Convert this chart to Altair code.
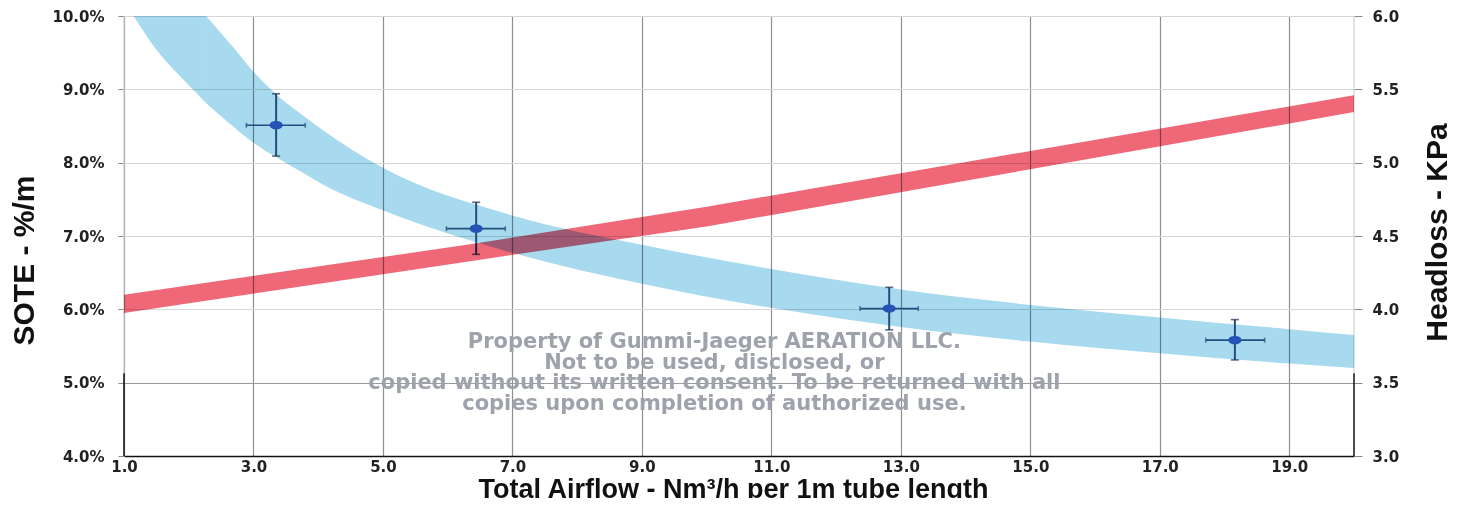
import altair as alt
import pandas as pd

# ---------------- data ----------------
# Blue band: SOTE (%/m) vs total airflow (main part, from where it leaves the top edge)
band_x = [2.27, 2.69, 3.0, 3.42, 3.77, 4.08, 5.0, 7.0, 9.0, 11.0, 13.0, 15.0, 17.0, 19.0, 20.0]
sote_upper = [10.0, 9.57, 9.24, 8.88, 8.64, 8.44, 7.93, 7.28, 6.88, 6.55, 6.27, 6.06, 5.89, 5.73, 5.65]
sote_lower = [8.81, 8.49, 8.27, 8.04, 7.86, 7.70, 7.35, 6.77, 6.35, 6.02, 5.76, 5.56, 5.40, 5.26, 5.20]
# Blue band tip, cut by the top of the plot (upper edge is the 10 % frame)
tip_x = [1.15, 1.5, 1.92, 2.27]
tip_lower = [10.0, 9.54, 9.13, 8.81]

# Red band: Headloss (KPa) vs total airflow
head_x = [1.0, 6.45, 10.0, 20.0]
head_lower = [3.975, 4.335, 4.565, 5.345]
head_upper = [4.10, 4.45, 4.70, 5.46]

# Measured points with error bars (SOTE %/m)
pt_x = [3.35, 6.44, 12.82, 18.16]
pt_y = [8.51, 7.10, 6.01, 5.58]
pt_y_lo = [8.09, 6.75, 5.72, 5.31]
pt_y_hi = [8.94, 7.46, 6.30, 5.86]
pt_x_lo = [2.89, 5.98, 12.37, 17.71]
pt_x_hi = [3.80, 6.89, 13.27, 18.62]

# Axes
x_ticks = [1.0, 3.0, 5.0, 7.0, 9.0, 11.0, 13.0, 15.0, 17.0, 19.0]
sote_ticks = [4.0, 5.0, 6.0, 7.0, 8.0, 9.0, 10.0]
head_ticks = [3.0, 3.5, 4.0, 4.5, 5.0, 5.5, 6.0]
x_range = [1.0, 20.0]
sote_range = [4.0, 10.0]
head_range = [3.0, 6.0]

# Plot frame: lower part of the side borders is dark
frame_x = [1.0, 20.0]
frame_break = 5.13

# Watermark (one row per line, centred on x)
watermark_lines = [
    "Property of Gummi-Jaeger AERATION LLC.",
    "Not to be used, disclosed, or",
    "copied without its written consent. To be returned with all",
    "copies upon completion of authorized use.",
]
watermark_x = 10.12
watermark_y = [5.55, 5.27, 4.99, 4.71]

x_title = "Total Airflow - Nm\u00b3/h per 1m tube length"
left_title = "SOTE - %/m"
right_title = "Headloss - KPa"

# ---------------- frames ----------------
band_df = pd.DataFrame({"x": band_x, "hi": sote_upper, "lo": sote_lower})
tip_df = pd.DataFrame({"x": tip_x, "hi": [sote_range[1]] * len(tip_x), "lo": tip_lower})
head_df = pd.DataFrame({"x": head_x, "hi": head_upper, "lo": head_lower})
pts_df = pd.DataFrame({"x": pt_x, "y": pt_y, "ylo": pt_y_lo, "yhi": pt_y_hi,
                       "xlo": pt_x_lo, "xhi": pt_x_hi})
frame_df = pd.DataFrame({"x": frame_x, "y0": [sote_range[0]] * 2,
                         "yb": [frame_break] * 2, "y1": [sote_range[1]] * 2})
wm_df = pd.DataFrame({"x": [watermark_x] * len(watermark_lines), "y": watermark_y,
                      "t": watermark_lines})

LABEL_FONT = "DejaVu Sans"
TITLE_FONT = "Liberation Sans"

x_scale = alt.Scale(domain=x_range, nice=False, zero=False)
yl_scale = alt.Scale(domain=sote_range, nice=False, zero=False)
yr_scale = alt.Scale(domain=head_range, nice=False, zero=False)

x_axis = alt.Axis(
    values=x_ticks, format=".1f", title=x_title,
    grid=True, gridColor="#8f8f8f", gridWidth=1.2,
    domain=True, domainColor="#111111", domainWidth=1.5,
    ticks=False, labelPadding=3,
    labelFont=LABEL_FONT, labelFontWeight="bold", labelFontSize=15, labelColor="#222222",
    labelFlush=False,
    titleFont=TITLE_FONT, titleFontWeight="bold", titleFontSize=27, titleColor="#111111",
    titleX=609, titleY=41, titleBaseline="alphabetic", titleAlign="center",
)
yl_axis = alt.Axis(
    values=sote_ticks, labelExpr="format(datum.value, '.1f') + '%'", title=left_title,
    orient="left",
    grid=True, gridWidth=1,
    gridColor={"condition": {"test": "datum.value === 5", "value": "#9a9a9a"}, "value": "#d6d6d6"},
    domain=False,
    ticks=True, tickSize=6, tickColor="#8a8a8a",
    labelPadding=14, labelFlush=False,
    labelFont=LABEL_FONT, labelFontWeight="bold", labelFontSize=15, labelColor="#222222",
    titleFont=TITLE_FONT, titleFontWeight="bold", titleFontSize=30, titleColor="#111111",
    titleX=-100, titleY=244, titleAngle=270, titleBaseline="middle", titleAlign="center",
)
yr_axis = alt.Axis(
    values=head_ticks, format=".1f", title=right_title, orient="right",
    grid=False, domain=False,
    ticks=True, tickSize=8, tickColor="#8a8a8a",
    labelPadding=10, labelFlush=False,
    labelFont=LABEL_FONT, labelFontWeight="bold", labelFontSize=15, labelColor="#222222",
    titleFont=TITLE_FONT, titleFontWeight="bold", titleFontSize=30, titleColor="#111111",
    titleX=83, titleY=216, titleAngle=270, titleBaseline="middle", titleAlign="center",
)


def X(field):
    return alt.X(f"{field}:Q", scale=x_scale, axis=x_axis)


def YL(field):
    return alt.Y(f"{field}:Q", scale=yl_scale, axis=yl_axis)


BLUE = "#a7daef"
blue_band = alt.Chart(band_df).mark_area(color=BLUE, blend="multiply", interpolate="monotone").encode(
    x=X("x"), y=YL("hi"), y2="lo:Q"
)
blue_tip = alt.Chart(tip_df).mark_area(color=BLUE, blend="multiply", interpolate="monotone").encode(
    x=X("x"), y=YL("hi"), y2="lo:Q"
)

frame_low = alt.Chart(frame_df).mark_rule(color="#111111", strokeWidth=1.5).encode(
    x=X("x"), y=YL("y0"), y2="yb:Q"
)
frame_up = alt.Chart(frame_df).mark_rule(color="#cfcfcf", strokeWidth=1.2).encode(
    x=X("x"), y=YL("yb"), y2="y1:Q"
)

watermark = alt.Chart(wm_df).mark_text(
    font=LABEL_FONT, fontWeight="bold", fontSize=21,
    color="#9ea3ab", align="center", baseline="middle",
).encode(x=X("x"), y=YL("y"), text="t:N")

err_col = "#234d7e"
pts = alt.Chart(pts_df)
v_err = pts.mark_rule(color=err_col, strokeWidth=2).encode(x=X("x"), y=YL("ylo"), y2="yhi:Q")
h_err = pts.mark_rule(color=err_col, strokeWidth=1.6).encode(x=X("xlo"), x2="xhi:Q", y=YL("y"))
cap_top = pts.mark_tick(color="#1a2d4a", orient="horizontal", size=8, thickness=1.6).encode(
    x=X("x"), y=YL("yhi"))
cap_bot = pts.mark_tick(color="#1a2d4a", orient="horizontal", size=8, thickness=1.6).encode(
    x=X("x"), y=YL("ylo"))
cap_l = pts.mark_tick(color=err_col, orient="vertical", size=5, thickness=1.6).encode(
    x=X("xlo"), y=YL("y"))
cap_r = pts.mark_tick(color=err_col, orient="vertical", size=5, thickness=1.6).encode(
    x=X("xhi"), y=YL("y"))
ellipse = "M -1 0 C -1 -0.85 1 -0.85 1 0 C 1 0.85 -1 0.85 -1 0 Z"
markers = pts.mark_point(shape=ellipse, size=169, filled=True, color="#2453b5", opacity=1).encode(
    x=X("x"), y=YL("y"))

left_layer = alt.layer(frame_up, blue_tip, blue_band, watermark, frame_low,
                       v_err, h_err, cap_top, cap_bot, cap_l, cap_r, markers)

red_band = alt.Chart(head_df).mark_area(color="#ef6878", blend="multiply").encode(
    x=X("x"),
    y=alt.Y("hi:Q", scale=yr_scale, axis=yr_axis),
    y2="lo:Q",
)

chart = alt.layer(left_layer, red_band).resolve_scale(y="independent").properties(
    width=1230, height=440,
    autosize=alt.AutoSizeParams(type="none"),
    padding={"left": 116, "top": 8, "right": 97, "bottom": 42},
    background="white",
).configure_view(stroke=None)

chart.save("out.html", embed_options={"renderer": "svg", "actions": False})
